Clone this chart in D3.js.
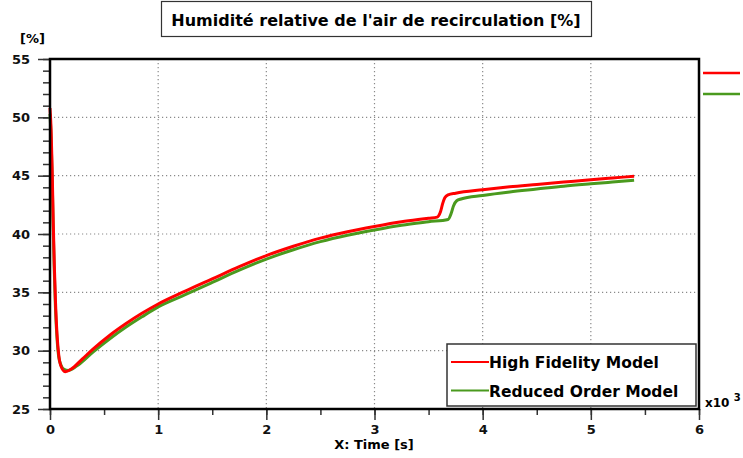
<!DOCTYPE html>
<html>
<head>
<meta charset="utf-8">
<script src="https://cdn.jsdelivr.net/npm/d3@7"></script>
<style>
  body { margin: 0; background: #fff; }
  svg { display: block; font-family: "DejaVu Sans", Verdana, sans-serif; font-weight: bold; }
</style>
</head>
<body>
<svg id="chart" width="743" height="458"></svg>
<script>
// time [s] and relative humidity [%]
const timeHF = [0, 10, 20, 30, 40, 50, 65, 80, 100, 140, 200, 300, 400, 550, 700, 850, 1000, 1250, 1500, 1750, 2000, 2250, 2500, 2750, 3000, 3250, 3500, 3580, 3610, 3630, 3650, 3680, 3750, 4000, 4250, 4500, 4750, 5000, 5200, 5400];
const rhHF = [50.8, 49.0, 45.5, 41.0, 37.3, 34.4, 31.4, 29.7, 28.7, 28.2, 28.45, 29.3, 30.15, 31.3, 32.3, 33.2, 34.0, 35.1, 36.15, 37.2, 38.15, 38.95, 39.65, 40.2, 40.65, 41.05, 41.35, 41.45, 41.9, 42.6, 43.1, 43.35, 43.5, 43.8, 44.05, 44.25, 44.45, 44.65, 44.8, 44.95];
const timeROM = [0, 10, 20, 30, 40, 50, 65, 80, 100, 130, 170, 250, 400, 550, 700, 850, 1000, 1250, 1500, 1750, 2000, 2250, 2500, 2750, 3000, 3250, 3500, 3680, 3710, 3730, 3760, 3800, 4000, 4250, 4500, 4750, 5000, 5200, 5400];
const rhROM = [50.3, 48.3, 44.8, 40.3, 36.7, 33.8, 31.0, 29.5, 28.8, 28.4, 28.3, 28.7, 29.9, 31.0, 32.0, 32.9, 33.75, 34.8, 35.85, 36.9, 37.85, 38.65, 39.35, 39.9, 40.35, 40.75, 41.05, 41.25, 41.8, 42.4, 42.85, 43.0, 43.3, 43.6, 43.85, 44.1, 44.3, 44.45, 44.6];
const seriesNames = ["High Fidelity Model", "Reduced Order Model"];
const seriesColors = ["#ff0000", "#4a9a1e"];
const xTicks = [0, 1000, 2000, 3000, 4000, 5000, 6000];
const yTicks = [25, 30, 35, 40, 45, 50, 55];

const svg = d3.select("#chart");
const pL = 50, pR = 699, pT = 59, pB = 409;

const x = d3.scaleLinear().domain([0, 6000]).range([pL, pR]);
const y = d3.scaleLinear().domain([25, 55]).range([pB, pT]);

// grid
const grid = svg.append("g").attr("stroke", "#8a8a8a").attr("stroke-width", 1.2).attr("stroke-dasharray", "1.2,2.8");
grid.selectAll("line.v").data(xTicks.slice(1, -1)).join("line")
  .attr("x1", d => x(d)).attr("x2", d => x(d)).attr("y1", pT).attr("y2", pB);
grid.selectAll("line.h").data(yTicks.slice(1, -1)).join("line")
  .attr("x1", pL).attr("x2", pR).attr("y1", d => y(d)).attr("y2", d => y(d));

// y axis: minor + major
const yMinor = d3.range(25, 56, 1);
svg.append("g").attr("transform", `translate(${pL},0)`)
  .call(d3.axisLeft(y).tickValues(yMinor).tickSize(7).tickFormat(""))
  .call(g => g.select(".domain").remove())
  .call(g => g.selectAll("line").attr("stroke", "#333").attr("stroke-width", 1.5));
svg.append("g").attr("transform", `translate(${pL},0)`)
  .call(d3.axisLeft(y).tickValues(yTicks).tickSize(12).tickPadding(8))
  .call(g => g.select(".domain").remove())
  .call(g => g.selectAll("line").attr("stroke", "#333").attr("stroke-width", 1.5))
  .call(g => g.selectAll("text").attr("font-size", 13).attr("font-family", "DejaVu Sans").attr("font-weight", "bold").attr("fill", "#111"));

// x axis: minor + major
const xMinor = d3.range(0, 6001, 500);
svg.append("g").attr("transform", `translate(0,${pB})`)
  .call(d3.axisBottom(x).tickValues(xMinor).tickSize(6).tickFormat(""))
  .call(g => g.select(".domain").remove())
  .call(g => g.selectAll("line").attr("stroke", "#333").attr("stroke-width", 1.5));
svg.append("g").attr("transform", `translate(0,${pB})`)
  .call(d3.axisBottom(x).tickValues(xTicks).tickSize(11).tickPadding(5).tickFormat(d => d / 1000))
  .call(g => g.select(".domain").remove())
  .call(g => g.selectAll("line").attr("stroke", "#333").attr("stroke-width", 1.5))
  .call(g => g.selectAll("text").attr("font-size", 13).attr("font-family", "DejaVu Sans").attr("font-weight", "bold").attr("fill", "#111"));

// curves
const line = d3.line().x(d => x(d[0])).y(d => y(d[1])).curve(d3.curveMonotoneX);
const series = [d3.zip(timeHF, rhHF), d3.zip(timeROM, rhROM)];
svg.append("g").selectAll("path").data([1, 0]).join("path")
  .attr("d", i => line(series[i]))
  .attr("fill", "none")
  .attr("stroke", i => seriesColors[i])
  .attr("stroke-width", 3)
  .attr("stroke-linejoin", "round");

// frame
svg.append("rect").attr("x", pL).attr("y", pT).attr("width", pR - pL).attr("height", pB - pT)
  .attr("fill", "none").attr("stroke", "#000").attr("stroke-width", 2.5);

// title
svg.append("rect").attr("x", 161.5).attr("y", 1.5).attr("width", 430).attr("height", 35)
  .attr("fill", "#fff").attr("stroke", "#333").attr("stroke-width", 1.2);
svg.append("text").attr("x", 376).attr("y", 26).attr("text-anchor", "middle").attr("font-size", 16)
  .text("Humidité relative de l'air de recirculation [%]");

svg.append("text").attr("x", 20).attr("y", 43).attr("font-size", 13).text("[%]");
svg.append("text").attr("x", 374).attr("y", 449).attr("text-anchor", "middle").attr("font-size", 13).text("X: Time [s]");
const mult = svg.append("text").attr("x", 705).attr("y", 407).attr("font-size", 12);
mult.append("tspan").text("x10 ");
mult.append("tspan").attr("dy", -6).attr("font-size", 10).text("3");

// right side markers
svg.selectAll("line.mark").data(seriesColors).join("line")
  .attr("x1", 703).attr("x2", 740)
  .attr("y1", (d, i) => 73 + i * 21).attr("y2", (d, i) => 73 + i * 21)
  .attr("stroke", d => d).attr("stroke-width", 2.5);

// legend
const lg = svg.append("g");
lg.append("rect").attr("x", 447).attr("y", 344).attr("width", 249).attr("height", 62)
  .attr("fill", "#fff").attr("stroke", "#333").attr("stroke-width", 1.5);
seriesNames.forEach((name, i) => {
  const yy = 362 + i * 28.5;
  lg.append("line").attr("x1", 451).attr("x2", 489).attr("y1", yy).attr("y2", yy)
    .attr("stroke", seriesColors[i]).attr("stroke-width", 2);
  lg.append("text").attr("x", 489).attr("y", yy + 6).attr("font-size", 15.5).text(name);
});
</script>
</body>
</html>
